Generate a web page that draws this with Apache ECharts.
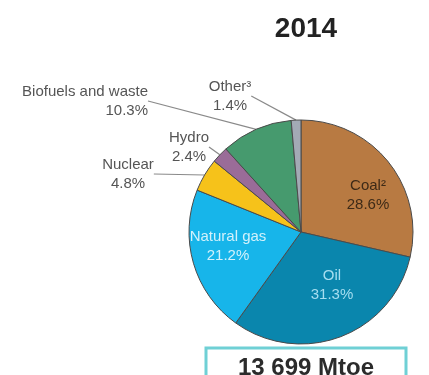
<!DOCTYPE html>
<html>
<head>
<meta charset="utf-8">
<script src="https://cdn.jsdelivr.net/npm/echarts@6/dist/echarts.min.js"></script>
<style>
  html, body { margin: 0; padding: 0; background: #fff; }
  #chart { width: 429px; height: 375px; }
</style>
</head>
<body>
<div id="chart"></div>
<script>
// World total primary energy supply by fuel, 2014
const year = '2014';
const fuels = ['Coal²', 'Oil', 'Natural gas', 'Nuclear', 'Hydro', 'Biofuels and waste', 'Other³'];
const shares = [28.6, 31.3, 21.2, 4.8, 2.4, 10.3, 1.4];
const total = '13 699 Mtoe';

const sliceColors = ['#b87a42', '#0a86ad', '#17b5ea', '#f6c21a', '#9a6c98', '#469a6e', '#a3aab5'];
const labelInk = ['#3d2a17', '#a6def0', '#d2f1fb', '#555', '#555', '#555', '#555'];

// Where each label block sits (centre, or right edge for right-aligned text)
const labelSpots = [
  { x: 368, y: 195, align: 'center' },
  { x: 332, y: 285, align: 'center' },
  { x: 228, y: 246, align: 'center' },
  { x: 128, y: 174, align: 'center' },
  { x: 189, y: 147, align: 'center' },
  { x: 148, y: 101, align: 'right' },
  { x: 230, y: 96, align: 'center' }
];
const insideCount = 3;

const chart = echarts.init(document.getElementById('chart'), null, { renderer: 'canvas' });

const font = 'Liberation Sans';

chart.setOption({
  animation: false,
  graphic: [
    {
      type: 'text', x: 306, y: 29,
      style: { text: year, textAlign: 'center', textVerticalAlign: 'middle',
               font: 'bold 28px "Liberation Sans"', fill: '#222' }
    },
    {
      type: 'rect', shape: { x: 206, y: 348, width: 200, height: 40 },
      style: { fill: '#fff', stroke: '#6fd0d5', lineWidth: 3 }
    },
    {
      type: 'text', x: 306, y: 368,
      style: { text: total, textAlign: 'center', textVerticalAlign: 'middle',
               font: 'bold 24px "Liberation Sans"', fill: '#2b2b2b' }
    }
  ],
  series: [{
    type: 'pie',
    center: [301, 232],
    radius: 112,
    startAngle: 90,
    clockwise: true,
    avoidLabelOverlap: false,
    itemStyle: { borderColor: '#4a4a4a', borderWidth: 1 },
    label: {
      show: true,
      position: 'outside',
      fontFamily: font,
      fontSize: 15,
      lineHeight: 19,
      color: '#555'
    },
    labelLine: {
      show: true,
      length: 1,
      length2: 0,
      lineStyle: { color: '#8a8a8a', width: 1.2 }
    },
    labelLayout: function (params) {
      const s = labelSpots[params.dataIndex];
      return { x: s.x, y: s.y, align: s.align, verticalAlign: 'middle' };
    },
    data: fuels.map(function (name, i) {
      const inside = i < insideCount;
      return {
        name: name,
        value: shares[i],
        itemStyle: { color: sliceColors[i] },
        label: {
          position: inside ? 'inside' : 'outside',
          color: labelInk[i],
          align: labelSpots[i].align,
          formatter: function (p) { return p.name + '\n' + p.value.toFixed(1) + '%'; }
        },
        labelLine: { show: !inside }
      };
    })
  }]
});
</script>
</body>
</html>
